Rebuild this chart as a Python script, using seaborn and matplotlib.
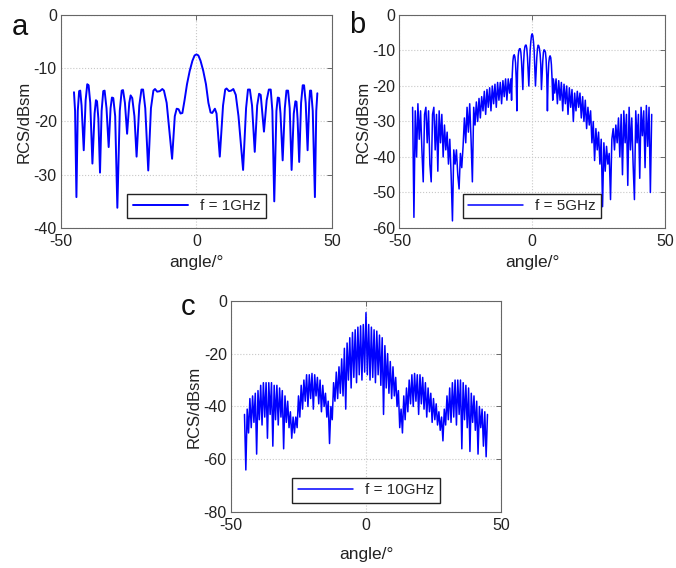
import numpy as np
import pandas as pd
import matplotlib
matplotlib.use("Agg")
import matplotlib.pyplot as plt
import seaborn as sns

# ---- panel a, f = 1 GHz: lobe tops and nulls ----
angle_a = [
    -45.2, -44.8, -44.3, -43.8, -43.3, -42.9, -42.4, -41.6, -40.9, -40.3,
    -39.8, -39.2, -38.4, -37.6, -37.1, -36.7, -36.2, -35.6, -35.0, -34.4,
    -33.9, -33.2, -32.4, -31.7, -31.2, -30.7, -30.0, -29.2, -28.3, -27.6,
    -27.1, -26.4, -25.6, -24.8, -24.3, -23.7, -22.9, -22.1, -21.1, -20.3,
    -19.7, -18.9, -17.8, -16.8, -15.9, -15.3, -14.5, -13.5, -12.6, -12.0,
    -11.0, -9.0, -8.0, -7.3, -6.6, -5.9, -5.2, -4.4, -3.5, -2.5,
    -1.5, -0.7, 0.0, 0.7, 1.5, 2.5, 3.5, 4.4, 5.2, 5.8,
    6.8, 7.4, 8.6, 9.8, 10.6, 11.1, 12.0, 12.8, 13.6, 14.5,
    15.5, 17.2, 18.3, 19.0, 19.7, 20.5, 21.5, 22.4, 23.1, 23.7,
    24.9, 25.9, 26.7, 27.4, 28.0, 28.7, 29.5, 30.0, 30.5, 31.0,
    31.8, 32.6, 33.2, 33.8, 34.4, 35.1, 35.9, 36.5, 36.9, 37.3,
    37.9, 38.6, 39.2, 39.7, 40.3, 41.0, 41.6, 41.9, 42.3, 42.9,
    43.7, 44.2, 44.6,
]
rcs_a = [
    -14.5, -18, -34.2, -18, -14.3, -14.2, -17, -25.4, -16, -13,
    -13.2, -16.5, -27.9, -18.5, -16, -16.2, -19.5, -29.6, -18, -14.3,
    -14.2, -17.5, -24.8, -17.5, -15.5, -15.6, -19, -36.2, -18, -14.2,
    -14.1, -16.5, -22.3, -16.5, -15.1, -15.6, -19, -26.6, -17, -14,
    -14, -17.5, -29.2, -17.5, -14.2, -13.9, -14.4, -14.3, -13.9, -14.2,
    -16.5, -27, -19, -17.6, -17.7, -18.5, -18.4, -16, -13, -10.5,
    -8.6, -7.6, -7.4, -7.6, -8.6, -10.5, -13, -16.5, -18.3, -18.4,
    -17.6, -18.5, -26.6, -17, -14, -13.8, -14.3, -14.2, -13.9, -15,
    -19, -29.1, -17.5, -14, -14, -17, -25.7, -17, -14.8, -15,
    -21.9, -16, -14, -14, -18, -35, -18, -15.5, -15.6, -18.5,
    -27.3, -17.5, -14.2, -14.2, -17.5, -29.1, -18.5, -16.2, -16.3, -19.5,
    -27.6, -16.5, -13.2, -13.2, -16.5, -25.4, -16.5, -14.2, -14.2, -18,
    -34.2, -18, -14.7,
]

# ---- panel b, f = 5 GHz ----
angle_b_left = np.arange(-45.0, -8.0, 0.5)
rcs_b_left = [
    -26, -57, -27, -40, -25, -35, -27, -38, -47, -28,
    -26, -36, -27, -42, -47, -28, -26, -38, -28, -44,
    -27, -36, -28, -40, -31, -38, -33, -42, -35, -45,
    -58, -38, -42, -38, -45, -49, -39, -43, -37, -29,
    -36, -26, -33, -25, -35, -47, -26, -31, -24.5, -30,
    -23.5, -29, -23, -27, -21.5, -28, -21, -26, -20.5, -27,
    -20, -25, -19.5, -26, -19, -24, -19, -25, -18.5, -23,
    -18, -24, -18, -22,
]
angle_b_mid = np.arange(-8.0, 8.25, 0.25)
rcs_b_mid = [
    -18, -24, -17, -13, -11.5, -11.2, -11.8, -13.5, -18, -27,
    -16, -11.5, -10, -9.5, -9.5, -10.5, -13, -17, -21, -14,
    -10.5, -9, -8.5, -8.5, -9.5, -12, -16, -20, -15, -10,
    -7.5, -5.8, -5.3, -5.8, -7.5, -10, -15, -20, -16, -12,
    -9.5, -8.5, -8.7, -9.5, -11, -14, -21, -17, -13, -10.5,
    -9.8, -10, -10.5, -12.5, -17, -27, -18, -13.5, -12, -11.5,
    -12, -14, -18, -24, -18,
]
angle_b_right = np.arange(8.5, 45.5, 0.5)
rcs_b_right = [
    -22, -18, -25, -18.5, -24, -19, -27, -19.5, -25, -20,
    -28, -20.5, -26, -21, -30, -22, -27, -21.5, -26, -22,
    -29, -23, -30, -24, -32, -26, -31, -27, -36, -30,
    -41, -32, -38, -33, -42, -35, -54, -36, -44, -37,
    -42, -39, -52, -35, -32, -38, -31, -36, -29, -40,
    -28, -45, -27, -36, -28, -48, -26, -38, -29, -42,
    -52, -27, -36, -28, -46, -26, -34, -27, -43, -25.5,
    -37, -26, -50, -28,
]

# ---- panel c, f = 10 GHz ----
angle_c = np.arange(-45.0, 45.5, 0.5)
rcs_c = [
    -43, -64, -41, -50, -37, -48, -36, -46, -35, -58,
    -34, -45, -32, -47, -31, -44, -31, -52, -31, -43,
    -31, -55, -32, -45, -32, -47, -33, -44, -34, -56,
    -36, -46, -38, -48, -42, -52, -44, -50, -44, -48,
    -36, -44, -32, -41, -30, -38, -28, -40, -28, -37,
    -27.5, -41, -28, -36, -29, -39, -30, -42, -32, -40,
    -35, -44, -38, -54, -40, -45, -31, -38, -27, -37,
    -25, -35, -22, -36, -18, -41, -16, -30, -14, -33,
    -12, -29, -11, -31, -10, -28, -9.5, -30, -9, -27,
    -4.5, -28, -9, -30, -10, -29, -11, -31, -11.5, -28,
    -13, -32, -14, -43, -17, -33, -20, -35, -23, -37,
    -25, -36, -29, -40, -34, -48, -41, -50, -36, -45,
    -33, -42, -30, -39, -28, -40, -27.5, -38, -28, -43,
    -28, -39, -29, -41, -31, -44, -33, -42, -35, -46,
    -37, -45, -39, -47, -42, -49, -44, -53, -41, -47,
    -36, -45, -33, -46, -31, -44, -30, -47, -30, -43,
    -30, -56, -31, -45, -32, -48, -33, -57, -35, -46,
    -36, -49, -38, -58, -40, -48, -41, -55, -42, -59,
    -43,
]

df_a = pd.DataFrame({"angle": angle_a, "rcs": rcs_a})
df_b = pd.DataFrame({
    "angle": np.concatenate([angle_b_left, angle_b_mid, angle_b_right]),
    "rcs": rcs_b_left + rcs_b_mid + rcs_b_right,
})
df_c = pd.DataFrame({"angle": angle_c, "rcs": rcs_c})

sns.set_theme(style="white")
plt.rcParams["font.family"] = ["Liberation Sans", "DejaVu Sans"]
plt.rcParams["axes.unicode_minus"] = False

fig = plt.figure(figsize=(6.76, 5.68), dpi=100)

panels = [
    # df, letter, legend text, y range, y step, axes rect, letter pos, xlabel y, line width
    (df_a, "a", "f = 1GHz", (-40, 0), 10, [0.0902, 0.5986, 0.4009, 0.375], (20, 27), -0.125, 1.4),
    (df_b, "b", "f = 5GHz", (-60, 0), 10, [0.5907, 0.5986, 0.3930, 0.375], (357, 25), -0.125, 1.1),
    (df_c, "c", "f = 10GHz", (-80, 0), 20, [0.3417, 0.0981, 0.3994, 0.3725], (188, 307), -0.165, 1.1),
]

for df, letter, leg, ylim, ystep, rect, pos, xlab_y, lw in panels:
    ax = fig.add_axes(rect)
    sns.lineplot(data=df, x="angle", y="rcs", ax=ax, color="#0000ff",
                 linewidth=lw, sort=False, estimator=None, label=leg)
    ax.set_xlim(-50, 50)
    ax.set_ylim(*ylim)
    ax.set_xticks([-50, 0, 50])
    ax.set_yticks(np.arange(ylim[0], ylim[1] + 1, ystep))
    ax.grid(True, linestyle=":", color="#c8c8c8", linewidth=0.8)
    ax.tick_params(direction="in", top=True, right=True, length=3.5,
                   width=0.6, color="#555555", labelsize=11.5,
                   labelcolor="#222222", pad=3)
    ax.tick_params(axis="x", pad=4)
    for sp in ax.spines.values():
        sp.set_color("#666666")
        sp.set_linewidth(0.8)
    ax.set_xlabel("angle/°", fontsize=12.5, color="#222222")
    ax.set_ylabel("RCS/dBsm", fontsize=12, color="#222222")
    ax.xaxis.set_label_coords(0.5, xlab_y)
    ax.yaxis.set_label_coords(-0.108, 0.5)
    ax.legend(loc="lower center", bbox_to_anchor=(0.5, 0.01), frameon=True,
              fancybox=False, edgecolor="#222222", framealpha=1,
              handlelength=3.6, fontsize=11, borderpad=0.35)
    fig.text(pos[0] / 676, 1 - pos[1] / 568, letter, fontsize=21,
             ha="center", va="center", color="#111111")

fig.savefig("out.png", dpi=100)
